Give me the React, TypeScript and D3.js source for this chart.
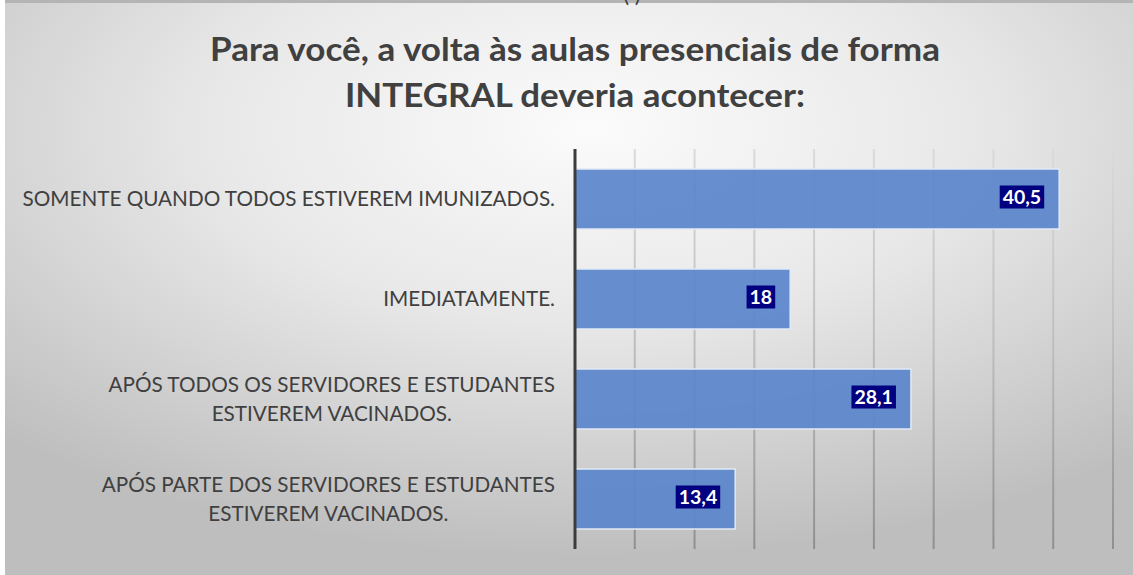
import React, { useLayoutEffect, useRef, useState } from "react";
import * as d3 from "d3";

const titleLines = ["Para você, a volta às aulas presenciais de forma", "INTEGRAL deveria acontecer:"];
const titleWidths = [730, 460];
const categories = [
  "SOMENTE QUANDO TODOS ESTIVEREM IMUNIZADOS.",
  "IMEDIATAMENTE.",
  "APÓS TODOS OS SERVIDORES E ESTUDANTES ESTIVEREM VACINADOS.",
  "APÓS PARTE DOS SERVIDORES E ESTUDANTES ESTIVEREM VACINADOS.",
];
const categoryLines = [
  ["SOMENTE QUANDO TODOS ESTIVEREM IMUNIZADOS."],
  ["IMEDIATAMENTE."],
  ["APÓS TODOS OS SERVIDORES E ESTUDANTES", "ESTIVEREM VACINADOS."],
  ["APÓS PARTE DOS SERVIDORES E ESTUDANTES", "ESTIVEREM VACINADOS."],
];
const values = [40.5, 18, 28.1, 13.4];
const valueLabels = ["40,5", "18", "28,1", "13,4"];
const gridTicks = [5, 10, 15, 20, 25, 30, 35, 40, 45];

const W = 1133;
const H = 575;
const plotLeft = 575;
const plotRight = 1113;
const plotTop = 149;
const plotBottom = 549;
const labelFont = "Lato, 'Open Sans', sans-serif";
const labelSize = 20.7;

function DataLabel({ xRight, yc, text }: { xRight: number; yc: number; text: string }) {
  const ref = useRef<SVGTextElement>(null);
  const [w, setW] = useState(text.length * 10);
  useLayoutEffect(() => {
    if (ref.current) setW(ref.current.getComputedTextLength());
  }, [text]);
  const pad = 3;
  const boxW = w + pad * 2;
  const boxH = 23;
  return (
    <g>
      <rect x={xRight - boxW} y={yc - boxH / 2} width={boxW} height={boxH} fill="#000080" />
      <text
        ref={ref}
        x={xRight - pad}
        y={yc}
        dy="0.36em"
        textAnchor="end"
        fill="#ffffff"
        fontFamily={labelFont}
        fontWeight={700}
        fontSize={19.5}
      >
        {text}
      </text>
    </g>
  );
}

function CenteredBlock({ lines, right, yc, lh }: { lines: string[]; right: number; yc: number; lh: number }) {
  const ref = useRef<SVGTextElement>(null);
  const [w, setW] = useState(400);
  useLayoutEffect(() => {
    if (ref.current) setW(ref.current.getComputedTextLength());
  }, [lines]);
  const cx = right - w / 2;
  const y0 = yc - ((lines.length - 1) * lh) / 2;
  return (
    <g>
      {lines.map((l, j) => (
        <text
          key={j}
          ref={j === 0 ? ref : undefined}
          x={lines.length === 1 ? right : cx}
          y={y0 + j * lh}
          dy="0.35em"
          textAnchor={lines.length === 1 ? "end" : "middle"}
          fontFamily={labelFont}
          fontSize={labelSize}
          fill="#404040"
        >
          {l}
        </text>
      ))}
    </g>
  );
}

export default function App() {
  const x = d3.scaleLinear().domain([0, 45]).range([plotLeft, plotRight]);
  const y = d3
    .scaleBand<string>()
    .domain(categories)
    .range([plotTop, plotBottom])
    .paddingInner(0.4)
    .paddingOuter(0.2);

  return (
    <svg width={W} height={H} style={{ position: "absolute", left: 0, top: 0, display: "block" }}>
      <defs>
        <radialGradient id="bg" cx="52%" cy="22%" r="75%" fx="52%" fy="22%">
          <stop offset="0" stopColor="#fbfbfb" />
          <stop offset="0.45" stopColor="#e8e8e8" />
          <stop offset="1" stopColor="#bebebe" />
        </radialGradient>
        <linearGradient id="grid" gradientUnits="userSpaceOnUse" x1="0" y1={plotTop} x2="0" y2={plotBottom}>
          <stop offset="0" stopColor="#dadada" />
          <stop offset="0.5" stopColor="#bdbdbd" />
          <stop offset="1" stopColor="#8f8f8f" />
        </linearGradient>
      </defs>
      <rect x={0} y={0} width={W} height={H} fill="#ffffff" />
      <rect x={5} y={3} width={W - 5} height={H - 3} fill="url(#bg)" />
      <rect x={5} y={0} width={W - 5} height={3} fill="#b4b4b4" />
      <text x={632} y={2} textAnchor="middle" fontFamily={labelFont} fontSize={22} fill="#404040">
        ( )
      </text>

      {titleLines.map((t, i) => (
        <text
          key={i}
          x={575}
          y={61 + i * 46}
          textAnchor="middle"
          textLength={titleWidths[i]}
          lengthAdjust="spacingAndGlyphs"
          fontFamily={labelFont}
          fontWeight={700}
          fontSize={33}
          fill="#404040"
        >
          {t}
        </text>
      ))}

      {gridTicks.map((t) => (
        <line key={t} x1={x(t)} x2={x(t)} y1={plotTop} y2={plotBottom} stroke="url(#grid)" strokeWidth={2} />
      ))}

      {categories.map((c, i) => (
        <rect
          key={c}
          x={x(0)}
          y={y(c) as number}
          width={x(values[i]) - x(0)}
          height={y.bandwidth()}
          fill="#5b87cb"
          fillOpacity={0.93}
          stroke="#e2eaf6"
          strokeWidth={1.5}
        />
      ))}

      <line x1={x(0)} x2={x(0)} y1={plotTop} y2={plotBottom} stroke="#3c3c3c" strokeWidth={3} />

      {categories.map((c, i) => {
        const yc = (y(c) as number) + y.bandwidth() / 2;
        return <CenteredBlock key={c} lines={categoryLines[i]} right={555} yc={yc} lh={29} />;
      })}

      {categories.map((c, i) => {
        const yc = (y(c) as number) + y.bandwidth() / 2;
        return <DataLabel key={c} xRight={x(values[i]) - 15} yc={yc - 2} text={valueLabels[i]} />;
      })}
    </svg>
  );
}
